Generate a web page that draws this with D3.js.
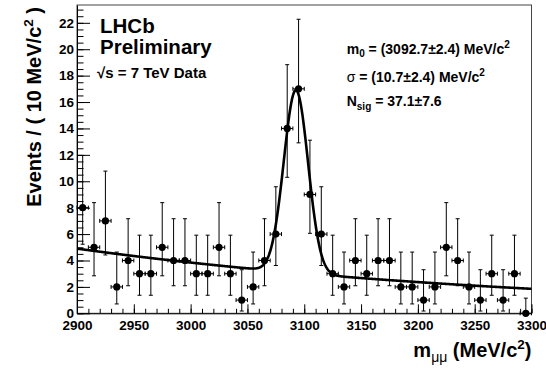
<!DOCTYPE html>
<html lang="en">
<head>
  <meta charset="UTF-8">
  <title>LHCb J/psi mass peak</title>
  <script src="https://d3js.org/d3.v7.min.js"></script>
  <style>
    body { margin: 0; background: #fff; }
    text { font-family: "Liberation Sans", Arial, Helvetica, sans-serif; font-weight: bold; }
  </style>
</head>
<body>
  <svg width="546" height="369"></svg>

  <script>
    // Bin centres (MeV/c^2), 10 MeV bins
    const binCenters = d3.range(2905, 3300, 10);
    // Events per bin
    const counts = [8, 5, 7, 2, 4, 3, 3, 5, 4, 4,
                    3, 3, 5, 3, 1, 2, 4, 6, 14, 17,
                    9, 6, 3, 2, 4, 3, 4, 4, 2, 2,
                    1, 2, 5, 4, 2, 1, 3, 1, 3, 0];
    // Poisson 68% intervals used for the error bars, by count
    const poissonLo = {0: 0, 1: 0.173, 2: 0.708, 3: 1.367, 4: 2.086, 5: 2.840, 6: 3.620,
                       7: 4.419, 8: 5.232, 9: 6.057, 14: 10.30, 17: 12.91};
    const poissonHi = {0: 1.147, 1: 3.300, 2: 4.638, 3: 5.918, 4: 7.163, 5: 8.382, 6: 9.584,
                       7: 10.77, 8: 11.95, 9: 13.11, 14: 18.83, 17: 22.27};

    // Fit result: gaussian signal + exponential background
    const m0 = 3092.7, sigma = 10.7, nSig = 37.1;
    const bkgAt2900 = 4.9, bkgSlope = -0.00243;
    const binWidth = 10;

    const xTicks = [2900, 2950, 3000, 3050, 3100, 3150, 3200, 3250, 3300];
    const yTicks = [0, 2, 4, 6, 8, 10, 12, 14, 16, 18, 20, 22];

    const svg = d3.select("svg");
    const fL = 77, fR = 531.5, fT = 5, fB = 313.3;

    const x = d3.scaleLinear().domain([2900, 3300]).range([fL, fR]);
    const y = d3.scaleLinear().domain([0, 23.35]).range([fB, fT]);

    // frame
    svg.append("rect")
      .attr("x", fL).attr("y", fT)
      .attr("width", fR - fL).attr("height", fB - fT)
      .attr("fill", "none").attr("stroke", "#444").attr("stroke-width", 1);

    // x axis: minor + major ticks, pointing inward
    const gx = svg.append("g").attr("transform", "translate(0," + fB + ")");
    gx.call(d3.axisBottom(x).tickValues(d3.range(2900, 3301, 10)).tickSizeInner(-4.5).tickSizeOuter(0).tickFormat(""));
    gx.call(g => g.select(".domain").remove());
    const gx2 = svg.append("g").attr("transform", "translate(0," + fB + ")");
    gx2.call(d3.axisBottom(x).tickValues(xTicks).tickSizeInner(-9).tickSizeOuter(0).tickPadding(7).tickFormat(d3.format("d")));
    gx2.select(".domain").attr("stroke", "#000");
    gx2.selectAll("text").style("font-size", "13.5px").attr("fill", "#000");

    // y axis
    const gy = svg.append("g").attr("transform", "translate(" + fL + ",0)");
    gy.call(d3.axisLeft(y).tickValues(d3.range(0, 23.3, 0.5)).tickSizeInner(-6.5).tickSizeOuter(0).tickFormat(""));
    gy.call(g => g.select(".domain").remove());
    const gy2 = svg.append("g").attr("transform", "translate(" + fL + ",0)");
    gy2.call(d3.axisLeft(y).tickValues(yTicks).tickSizeInner(-13).tickSizeOuter(0).tickPadding(3));
    gy2.select(".domain").attr("stroke", "#000");
    gy2.selectAll("text").style("font-size", "13.5px").attr("fill", "#000");

    // fit curve
    const model = m => bkgAt2900 * Math.exp(bkgSlope * (m - 2900)) +
      nSig * binWidth / (sigma * Math.sqrt(2 * Math.PI)) * Math.exp(-0.5 * Math.pow((m - m0) / sigma, 2));
    const grid = d3.range(2900, 3300.01, 0.5);
    svg.append("path")
      .datum(grid)
      .attr("fill", "none")
      .attr("stroke", "#000")
      .attr("stroke-width", 2.6)
      .attr("stroke-linejoin", "round")
      .attr("d", d3.line().x(m => x(m)).y(m => y(model(m))));

    // data points with error bars
    const data = binCenters.map((c, i) => ({ c, n: counts[i] }));
    const pts = svg.append("g").attr("stroke", "#000").attr("stroke-width", 1);
    const cap = 2;
    data.forEach(d => {
      const cx = x(d.c), cy = y(d.n);
      const ylo = y(poissonLo[d.n]), yhi = y(poissonHi[d.n]);
      const xl = x(d.c - binWidth / 2), xr = x(d.c + binWidth / 2);
      pts.append("line").attr("x1", cx).attr("x2", cx).attr("y1", ylo).attr("y2", yhi);
      pts.append("line").attr("x1", cx - cap).attr("x2", cx + cap).attr("y1", ylo).attr("y2", ylo);
      pts.append("line").attr("x1", cx - cap).attr("x2", cx + cap).attr("y1", yhi).attr("y2", yhi);
      pts.append("line").attr("x1", xl).attr("x2", xr).attr("y1", cy).attr("y2", cy);
      pts.append("line").attr("x1", xl).attr("x2", xl).attr("y1", cy - cap).attr("y2", cy + cap);
      pts.append("line").attr("x1", xr).attr("x2", xr).attr("y1", cy - cap).attr("y2", cy + cap);
    });
    svg.append("g").selectAll("circle")
      .data(data)
      .join("circle")
      .attr("cx", d => x(d.c))
      .attr("cy", d => y(d.n))
      .attr("r", 3.6)
      .attr("fill", "#000");

    // labels
    svg.append("text").attr("x", 100).attr("y", 33.3).style("font-size", "20.5px").text("LHCb");
    svg.append("text").attr("x", 100).attr("y", 54.3).style("font-size", "20.5px").text("Preliminary");
    svg.append("text").attr("x", 97).attr("y", 78.3).style("font-size", "15px").text("\u221As = 7 TeV Data");

    const info = svg.append("g").style("font-size", "14px");
    const t1 = info.append("text").attr("x", 346.7).attr("y", 54.3);
    t1.append("tspan").text("m");
    t1.append("tspan").attr("dy", 3).style("font-size", "10px").text("0");
    t1.append("tspan").attr("dy", -3).text(" = (3092.7\u00B12.4) MeV/c");
    t1.append("tspan").attr("dy", -6).style("font-size", "10px").text("2");
    const t2 = info.append("text").attr("x", 346.7).attr("y", 81.7);
    t2.append("tspan").style("font-weight", "normal").text("\u03C3");
    t2.append("tspan").text(" = (10.7\u00B12.4) MeV/c");
    t2.append("tspan").attr("dy", -6).style("font-size", "10px").text("2");
    const t3 = info.append("text").attr("x", 346.7).attr("y", 106);
    t3.append("tspan").text("N");
    t3.append("tspan").attr("dy", 4).style("font-size", "10px").text("sig");
    t3.append("tspan").attr("dy", -4).text(" = 37.1\u00B17.6");

    // axis titles
    const yt = svg.append("text")
      .attr("transform", "translate(41," + (fT + 2) + ") rotate(-90)")
      .attr("text-anchor", "end")
      .style("font-size", "20px");
    yt.append("tspan").text("Events / ( 10 MeV/c");
    yt.append("tspan").attr("dy", -8).style("font-size", "13.5px").text("2");
    yt.append("tspan").attr("dy", 8).text(" )");

    const xt = svg.append("text")
      .attr("x", fR).attr("y", 357)
      .attr("text-anchor", "end")
      .style("font-size", "20px");
    xt.append("tspan").text("m");
    xt.append("tspan").attr("dy", 5).style("font-size", "14px").style("font-weight", "normal").text("\u03BC\u03BC");
    xt.append("tspan").attr("dy", -5).text(" (MeV/c");
    xt.append("tspan").attr("dy", -8).style("font-size", "13.5px").text("2");
    xt.append("tspan").attr("dy", 8).text(")");
  </script>
</body>
</html>
